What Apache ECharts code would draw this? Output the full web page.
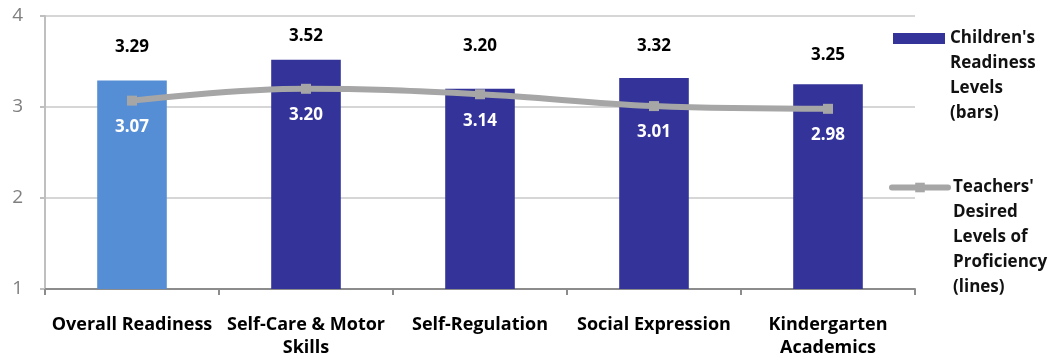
<!DOCTYPE html>
<html>
<head>
<meta charset="utf-8">
<script src="https://cdn.jsdelivr.net/npm/echarts@6/dist/echarts.min.js"></script>
<style>
  html, body { margin: 0; padding: 0; background: #fff; }
  #chart { width: 1059px; height: 360px; }
</style>
</head>
<body>
<div id="chart"></div>
<script>
// categories and values
var categories = ['Overall Readiness', 'Self-Care & Motor\nSkills', 'Self-Regulation', 'Social Expression', 'Kindergarten\nAcademics'];
var childrenLevels = [3.29, 3.52, 3.20, 3.32, 3.25];
var teacherLevels = [3.07, 3.20, 3.14, 3.01, 2.98];
var yTicks = [1, 2, 3, 4];

// labels above bars sit at uneven heights in the original
var barLabelGap = [25, 15, 34, 23, 21];

var FONT = '"Open Sans"';
var navy = '#333399';
var lightBlue = '#558ED5';
var grey = '#A6A6A6';

var barName = "Children's\nReadiness\nLevels\n(bars)";
var lineName = "Teachers'\nDesired\nLevels of\nProficiency\n(lines)";

var barData = [];
for (var i = 0; i < childrenLevels.length; i++) {
    barData.push({
        value: childrenLevels[i],
        itemStyle: { color: i == 0 ? lightBlue : navy },
        label: { distance: barLabelGap[i] }
    });
}

// legend text is centred on its icon, so pad with empty lines above
// to bring the first line level with the icon
function topAlign(name) {
    var n = name.split('\n').length;
    var pad = '';
    for (var k = 1; k < n; k++) pad += '\n';
    return pad + name;
}

var legendText = { fontFamily: FONT, fontWeight: 'bold', fontSize: 17, color: '#111', lineHeight: 25 };

var myChart = echarts.init(document.getElementById('chart'));

var option = {
    animation: false,
    textStyle: { fontFamily: FONT },
    grid: { left: 45, right: 144, top: 16, bottom: 71 },
    legend: [{
        left: 893,
        top: -49,
        padding: 0,
        itemWidth: 52,
        itemHeight: 11,
        data: [{ name: barName, icon: 'rect' }],
        formatter: topAlign,
        textStyle: legendText
    }, {
        left: 889,
        top: 75,
        padding: 0,
        itemWidth: 56,
        itemHeight: 12,
        data: [{ name: lineName, lineStyle: { width: 6, cap: 'round' } }],
        formatter: topAlign,
        textStyle: legendText
    }],
    xAxis: {
        type: 'category',
        data: categories,
        axisLine: { lineStyle: { color: '#8C8C8C', width: 2 } },
        axisTick: { show: true, length: 6, lineStyle: { color: '#8C8C8C', width: 2 } },
        axisLabel: {
            interval: 0,
            margin: 24,
            color: '#000',
            fontFamily: FONT,
            fontWeight: 'bold',
            fontSize: 18,
            lineHeight: 23
        }
    },
    yAxis: {
        type: 'value',
        min: yTicks[0],
        max: yTicks[yTicks.length - 1],
        interval: 1,
        axisLine: { show: true, lineStyle: { color: '#BFBFBF', width: 2 } },
        axisTick: { show: true, length: 5, lineStyle: { color: '#BFBFBF', width: 2 } },
        axisLabel: { margin: 22, color: '#7F7F7F', fontFamily: FONT, fontSize: 19 },
        splitLine: { lineStyle: { color: '#C8C8C8', width: 1.5 } }
    },
    series: [{
        name: barName,
        type: 'bar',
        barWidth: '40%',
        itemStyle: { color: navy },
        data: barData,
        label: {
            show: true,
            position: 'top',
            color: '#000',
            fontFamily: FONT,
            fontWeight: 'bold',
            fontSize: 17,
            formatter: function (p) { return p.value.toFixed(2); }
        }
    }, {
        name: lineName,
        type: 'line',
        smooth: 0.4,
        z: 5,
        data: teacherLevels,
        symbol: 'rect',
        symbolSize: 10,
        itemStyle: { color: grey },
        lineStyle: { color: grey, width: 6 },
        label: {
            show: true,
            position: 'bottom',
            distance: 13,
            color: '#fff',
            fontFamily: FONT,
            fontWeight: 'bold',
            fontSize: 17,
            formatter: function (p) { return p.value.toFixed(2); }
        }
    }]
};

myChart.setOption(option);
</script>
</body>
</html>
